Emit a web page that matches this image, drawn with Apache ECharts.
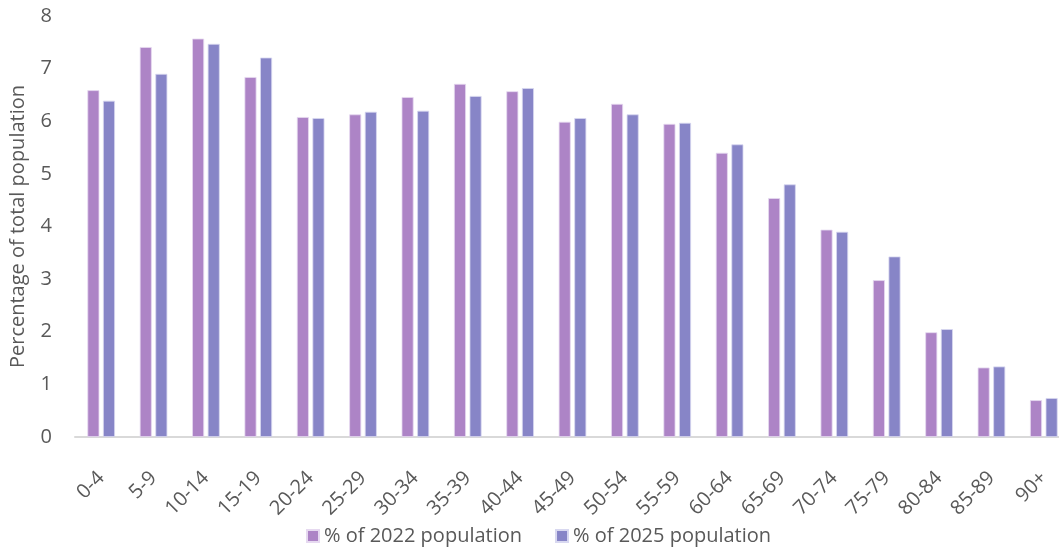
<!DOCTYPE html>
<html>
<head>
<meta charset="utf-8">
<script src="https://cdn.jsdelivr.net/npm/echarts@6/dist/echarts.min.js"></script>
<style>
  html, body { margin: 0; padding: 0; background: #fff; overflow: hidden; }
  /* the plot area runs slightly past the right edge of the page */
  #chart { width: 1070px; height: 547px; }
</style>
</head>
<body>
<div id="chart"></div>
<script>
// Age bands
const ageGroups = ['0-4','5-9','10-14','15-19','20-24','25-29','30-34','35-39','40-44','45-49',
                   '50-54','55-59','60-64','65-69','70-74','75-79','80-84','85-89','90+'];
// Share of total population (%) per age band
const pop2022 = [6.59, 7.41, 7.57, 6.84, 6.08, 6.13, 6.46, 6.71, 6.57, 5.99,
                 6.33, 5.95, 5.40, 4.54, 3.94, 2.98, 1.99, 1.32, 0.70];
const pop2025 = [6.39, 6.90, 7.47, 7.21, 6.06, 6.18, 6.20, 6.48, 6.63, 6.06,
                 6.13, 5.97, 5.56, 4.80, 3.90, 3.43, 2.05, 1.34, 0.74];
const seriesNames = ['% of 2022 population', '% of 2025 population'];
const yTicks = [0, 1, 2, 3, 4, 5, 6, 7, 8];

const font = '"Open Sans", "Noto Sans", sans-serif';
const textColor = '#595959';

const chart = echarts.init(document.getElementById('chart'), null, { renderer: 'canvas' });
chart.setOption({
  animation: false,
  backgroundColor: '#ffffff',
  textStyle: { fontFamily: font },
  grid: { left: 75, right: 0, top: 16, bottom: 110, containLabel: false },
  legend: {
    top: 521,
    left: 301,
    itemWidth: 12,
    itemHeight: 12,
    itemGap: 33,
    icon: 'rect',
    textStyle: { color: textColor, fontSize: 20, fontFamily: font },
    data: seriesNames
  },
  xAxis: {
    type: 'category',
    data: ageGroups,
    axisLine: { show: true, lineStyle: { color: '#d9d9d9', width: 2 } },
    axisTick: { show: false },
    axisLabel: {
      color: textColor,
      fontSize: 20,
      rotate: 45,
      margin: 38,
      interval: 0,
      fontFamily: font
    }
  },
  yAxis: {
    type: 'value',
    min: yTicks[0],
    max: yTicks[yTicks.length - 1],
    interval: 1,
    name: 'Percentage of total population',
    nameLocation: 'middle',
    nameGap: 47,
    nameRotate: 90,
    nameTextStyle: { color: textColor, fontSize: 20, fontFamily: font },
    axisLine: { show: false },
    axisTick: { show: false },
    splitLine: { show: false },
    axisLabel: { color: textColor, fontSize: 20, margin: 23, fontFamily: font }
  },
  series: [
    {
      name: seriesNames[0],
      type: 'bar',
      data: pop2022,
      barWidth: 12,
      barGap: '30%',
      itemStyle: { color: '#ad84c6', borderColor: '#e6d9f0', borderWidth: 0.8 }
    },
    {
      name: seriesNames[1],
      type: 'bar',
      data: pop2025,
      barWidth: 12,
      itemStyle: { color: '#8785c7', borderColor: '#d8d8f0', borderWidth: 0.8 }
    }
  ]
});
</script>
</body>
</html>
